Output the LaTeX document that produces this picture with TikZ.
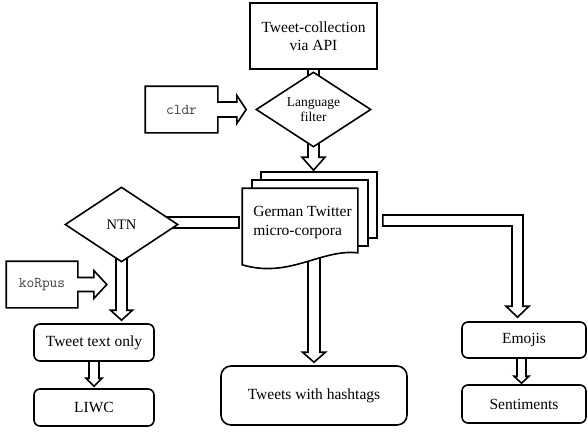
\documentclass[tikz,border=0pt]{standalone}
\usepackage{fontspec}
\setmainfont{Liberation Serif}
\usetikzlibrary{shapes.geometric,calc}
\pgfdeclarelayer{bg}
\pgfsetlayers{bg,main}
\newcommand\mainsz{\fontsize{15.5}{18.6}\selectfont}
\newcommand\BlkDown[5]{%
  \draw[blk] ($(#1)+(-#3,0)$) -- ($(#2)+(-#3,-#5)$) -- ($(#2)+(-#4,-#5)$) -- (#2)
    -- ($(#2)+(#4,-#5)$) -- ($(#2)+(#3,-#5)$) -- ($(#1)+(#3,0)$);}
\begin{document}
\begin{tikzpicture}[x=1pt,y=-1pt, line width=1.6pt, line join=miter,
  box/.style={draw, rounded corners=6pt, fill=white, inner sep=0pt, font=\mainsz},
  dia/.style={draw, diamond, fill=white, inner sep=0pt, align=center},
  blk/.style={draw=black, fill=white, line width=1.6pt, line join=miter},
  mono/.style={inner sep=0pt, font=\ttfamily\fontsize{15}{17}\selectfont, text=black!75}]

\useasboundingbox (0,0) rectangle (588,440);

% top
\node[draw, fill=white, minimum width=127pt, minimum height=66pt, inner sep=0pt,
      align=center, font=\mainsz] (tc) at (313.5,36) {Tweet-collection\\via API};
\node[dia, aspect=1.53, minimum width=115pt, minimum height=75pt,
      font=\fontsize{13.5}{15.5}\selectfont] (lang) at (313.5,109.5) {Language\\filter};
\node[mono, minimum width=71pt, minimum height=45pt] (cldr) at (181.5,109.5) {cldr};

% corpora pages
\node[minimum width=114pt, minimum height=64pt, inner sep=0pt] (back) at (319,205) {};
\node[minimum width=114pt, minimum height=64pt, inner sep=0pt] (mid) at (310,213) {};
\node[minimum width=114pt, minimum height=63pt, inner sep=0pt] (front) at (300,220.5) {};
\draw[fill=white] (back.north west) rectangle (back.south east);
\draw[fill=white] (mid.north west) rectangle (mid.south east);
\draw[fill=white] (front.north west) -- (front.north east) -- (front.south east)
  .. controls +(-37,-4) and +(47,14) .. ($(front.south west)+(0,12)$) -- cycle;
\node[align=left, inner sep=0pt, font=\mainsz] (corp) at (302.5,222.5) {German Twitter\\micro-corpora};

% left branch
\node[dia, aspect=1.5, minimum width=113pt, minimum height=75pt,
      font=\fontsize{14.5}{17}\selectfont] (ntn) at (121.5,224.5) {NTN};
\node[mono, minimum width=70pt, minimum height=45pt] (korpus) at (42,284.5) {koRpus};
\node[box, minimum width=120pt, minimum height=37pt] (txt) at (94,342.5) {Tweet text only};
\node[box, minimum width=120pt, minimum height=37pt] (liwc) at (94,407.5) {LIWC};

% middle
\node[box, rounded corners=10pt, minimum width=186pt, minimum height=59pt] (hash) at (314,395.5) {Tweets with hashtags};

% right
\node[box, minimum width=124pt, minimum height=36pt] (emo) at (524,340) {Emojis};
\node[box, minimum width=124pt, minimum height=38pt] (sent) at (524,404) {Sentiments};

% helper coordinates
\path (lang.center |- back.north) ++(0,-2) coordinate (t1);
\path (hash.north |- front.center) coordinate (s3);
\path (hash.north) ++(0,-3) coordinate (t3);
\path (ntn.center |- txt.north) ++(0,-3) coordinate (t4);
\path (liwc.north) ++(0,-2) coordinate (t2);
\path (emo.center) ++(-2.5,0) coordinate (s5);
\path (sent.north) ++(-2.5,-1) coordinate (t5);
\path (front.west) ++(-3,2) coordinate (s6);
\path (s6 -| ntn.center) coordinate (e6);
\path (back.east |- front.center) ++(6,0) coordinate (s7);
\path (emo.north) ++(-6.5,-4) coordinate (t7);
\path (t7 |- s7) coordinate (c7);
\path (lang.west) ++(-9,0) coordinate (t8);
\path (korpus.east) ++(29,0) coordinate (t9);

\begin{pgfonlayer}{bg}
  \BlkDown{tc.center}{lang.center}{5.5}{11.5}{13}
  \BlkDown{lang.center}{t1}{5.5}{11.5}{13}
  \BlkDown{s3}{t3}{6}{11.5}{10}
  \BlkDown{ntn.center}{t4}{5.5}{11}{10}
  \BlkDown{txt.center}{t2}{5}{8}{8}
  \BlkDown{s5}{t5}{4.5}{7.5}{7}
  \draw[blk] ($(s6)+(0,-5.5)$) rectangle ($(e6)+(0,5.5)$);
  \draw[blk] ($(s7)+(0,-5.5)$) -- ($(c7)+(5.5,-5.5)$) -- ($(t7)+(5.5,-11)$)
    -- ($(t7)+(11.5,-11)$) -- (t7) -- ($(t7)+(-11.5,-11)$) -- ($(t7)+(-5.5,-11)$)
    -- ($(c7)+(-5.5,5.5)$) -- ($(s7)+(0,5.5)$) -- cycle;
  \draw[blk] (cldr.north west) -- (cldr.north east) -- ($(cldr.east)+(0,-7.5)$)
    -- ($(cldr.east)+(19,-7.5)$) -- ($(cldr.east)+(19,-14)$) -- (t8)
    -- ($(cldr.east)+(19,14)$) -- ($(cldr.east)+(19,7.5)$) -- ($(cldr.east)+(0,7.5)$)
    -- (cldr.south east) -- (cldr.south west) -- cycle;
  \draw[blk] (korpus.north west) -- (korpus.north east) -- ($(korpus.east)+(0,-7)$)
    -- ($(korpus.east)+(16,-7)$) -- ($(korpus.east)+(16,-14)$) -- (t9)
    -- ($(korpus.east)+(16,14)$) -- ($(korpus.east)+(16,7)$) -- ($(korpus.east)+(0,7)$)
    -- (korpus.south east) -- (korpus.south west) -- cycle;
\end{pgfonlayer}
\end{tikzpicture}
\end{document}
